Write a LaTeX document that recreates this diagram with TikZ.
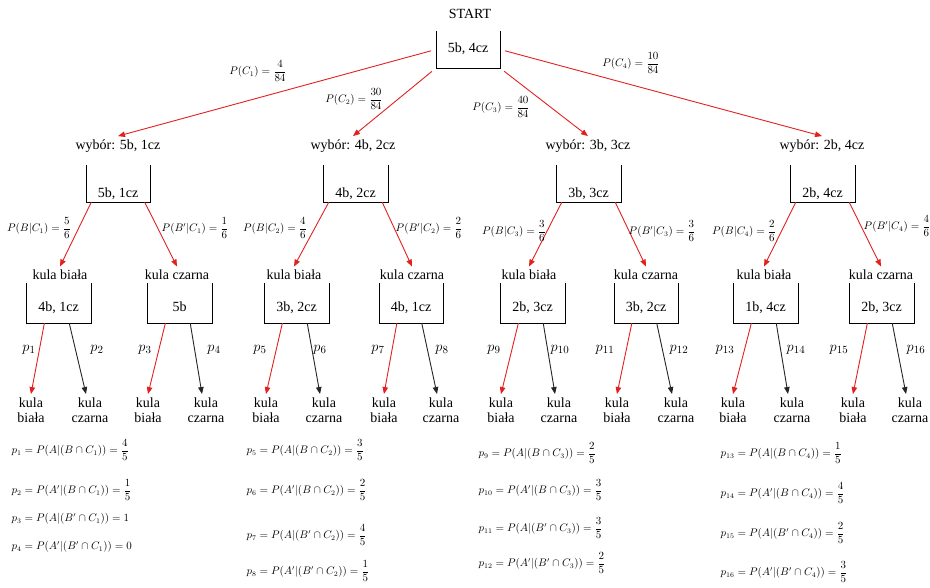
\documentclass[tikz,border=0pt]{standalone}
\usepackage{amsmath}
\usepackage{fontspec}
\setmainfont{Liberation Serif}
\usetikzlibrary{arrows.meta}
\definecolor{arrred}{RGB}{226,32,32}

\begin{document}
\begin{tikzpicture}[x=1pt,y=-1pt,
    font=\fontsize{14}{15}\selectfont,
    cupA/.style={inner sep=0pt,minimum width=64pt,text height=21.5pt,text depth=15.5pt},
    cupB/.style={inner sep=0pt,minimum width=64pt,text height=32.5pt,text depth=4.5pt},
    cupC/.style={inner sep=0pt,minimum width=64pt,text height=28.5pt,text depth=11.5pt},
    leaf/.style={align=center},
    prob/.style={font=\fontsize{10.5}{12}\selectfont},
    plab/.style={font=\fontsize{15}{17}\selectfont},
    res/.style={anchor=west,font=\fontsize{10.5}{12}\selectfont},
    redarr/.style={draw=arrred,line width=0.9pt,-{Triangle[length=7pt,width=5.5pt]}},
    blkarr/.style={draw=black!85,line width=0.9pt,-{Triangle[length=7pt,width=5.5pt]}}]
  \useasboundingbox (0,0) rectangle (930,587);

  % start and first draw
  \draw
    (470,14) node (start) {START}
    (468,49.5) node[cupA] (s) {5b, 4cz}
    (118,146) node (w1) {wybór: 5b, 1cz}
    (353,146) node (w2) {wybór: 4b, 2cz}
    (588,146) node (w3) {wybór: 3b, 3cz}
    (822,146) node (w4) {wybór: 2b, 4cz}
    (118,183.5) node[cupB] (b1) {5b, 1cz}
    (355.5,183.5) node[cupB] (b2) {4b, 2cz}
    (588.5,183.5) node[cupB] (b3) {3b, 3cz}
    (822.5,183.5) node[cupB] (b4) {2b, 4cz};

  % second draw
  \draw
    (60,275) node (kb1) {kula biała}
    (177,275) node (kc1) {kula czarna}
    (294,275) node (kb2) {kula biała}
    (412,275) node (kc2) {kula czarna}
    (529,275) node (kb3) {kula biała}
    (646,275) node (kc3) {kula czarna}
    (764,275) node (kb4) {kula biała}
    (881,275) node (kc4) {kula czarna}
    (58.5,303) node[cupC] (c1) {4b, 1cz}
    (179.5,303) node[cupC] (c2) {5b}
    (296.5,303) node[cupC] (c3) {3b, 2cz}
    (411,303) node[cupC] (c4) {4b, 1cz}
    (532.5,303) node[cupC] (c5) {2b, 3cz}
    (646,303) node[cupC] (c6) {3b, 2cz}
    (765.5,303) node[cupC] (c7) {1b, 4cz}
    (881.5,303) node[cupC] (c8) {2b, 3cz};

  % third draw
  \draw
    (31,410) node[leaf] (l1) {kula\\biała}
    (90,410) node[leaf] (l2) {kula\\czarna}
    (148,410) node[leaf] (l3) {kula\\biała}
    (206,410) node[leaf] (l4) {kula\\czarna}
    (266,410) node[leaf] (l5) {kula\\biała}
    (324,410) node[leaf] (l6) {kula\\czarna}
    (384,410) node[leaf] (l7) {kula\\biała}
    (441,410) node[leaf] (l8) {kula\\czarna}
    (501,410) node[leaf] (l9) {kula\\biała}
    (559,410) node[leaf] (l10) {kula\\czarna}
    (617,410) node[leaf] (l11) {kula\\biała}
    (676,410) node[leaf] (l12) {kula\\czarna}
    (733,410) node[leaf] (l13) {kula\\biała}
    (792,410) node[leaf] (l14) {kula\\czarna}
    (853,410) node[leaf] (l15) {kula\\biała}
    (910,410) node[leaf] (l16) {kula\\czarna};

  % open boxes
  \draw (s.north west) |- (s.south east) -- (s.north east);
  \draw (b1.north west) |- (b1.south east) -- (b1.north east);
  \draw (b2.north west) |- (b2.south east) -- (b2.north east);
  \draw (b3.north west) |- (b3.south east) -- (b3.north east);
  \draw (b4.north west) |- (b4.south east) -- (b4.north east);
  \draw (c1.north west) |- (c1.south east) -- (c1.north east);
  \draw (c2.north west) |- (c2.south east) -- (c2.north east);
  \draw (c3.north west) |- (c3.south east) -- (c3.north east);
  \draw (c4.north west) |- (c4.south east) -- (c4.north east);
  \draw (c5.north west) |- (c5.south east) -- (c5.north east);
  \draw (c6.north west) |- (c6.south east) -- (c6.north east);
  \draw (c7.north west) |- (c7.south east) -- (c7.north east);
  \draw (c8.north west) |- (c8.south east) -- (c8.north east);

  \begin{scope}[redarr]
    \draw[shorten <=5pt] (s.west) to (w1.north);
    \draw[shorten <=5pt] (s.south west) to (w2.north);
    \draw[shorten <=5pt] (s.south east) to (w3.north);
    \draw[shorten <=5pt] (s.east) to (w4.north);
    \draw (b1.-145) to (kb1.north);
    \draw (b1.-35) to (kc1.north);
    \draw (b2.-145) to (kb2.north);
    \draw (b2.-35) to (kc2.north);
    \draw (b3.-145) to (kb3.north);
    \draw (b3.-35) to (kc3.north);
    \draw (b4.-145) to (kb4.north);
    \draw (b4.-35) to (kc4.north);
    \draw (c1.-125) to (l1.north);
    \draw (c2.-125) to (l3.north);
    \draw (c3.-125) to (l5.north);
    \draw (c4.-125) to (l7.north);
    \draw (c5.-125) to (l9.north);
    \draw (c6.-125) to (l11.north);
    \draw (c7.-125) to (l13.north);
    \draw (c8.-125) to (l15.north);
  \end{scope}
  \begin{scope}[blkarr]
    \draw (c1.-62) to ([xshift=-4pt]l2.north);
    \draw (c2.-62) to ([xshift=-4pt]l4.north);
    \draw (c3.-62) to ([xshift=-4pt]l6.north);
    \draw (c4.-62) to ([xshift=-4pt]l8.north);
    \draw (c5.-62) to ([xshift=-4pt]l10.north);
    \draw (c6.-62) to ([xshift=-4pt]l12.north);
    \draw (c7.-62) to ([xshift=-4pt]l14.north);
    \draw (c8.-62) to ([xshift=-4pt]l16.north);
  \end{scope}

  % branch labels
  \node[prob] (q1) at (258,71) {$P(C_1)=\dfrac{4}{84}$};
  \node[prob] (q2) at (354,99) {$P(C_2)=\dfrac{30}{84}$};
  \node[prob] (q3) at (501,107) {$P(C_3)=\dfrac{40}{84}$};
  \node[prob] (q4) at (631,63) {$P(C_4)=\dfrac{10}{84}$};
  \node[prob] (r1) at (39,228) {$P(B|C_1)=\dfrac{5}{6}$};
  \node[prob] (r2) at (195,228) {$P(B'|C_1)=\dfrac{1}{6}$};
  \node[prob] (r3) at (275,228) {$P(B|C_2)=\dfrac{4}{6}$};
  \node[prob] (r4) at (429,228) {$P(B'|C_2)=\dfrac{2}{6}$};
  \node[prob] (r5) at (514,231) {$P(B|C_3)=\dfrac{3}{6}$};
  \node[prob] (r6) at (662,231) {$P(B'|C_3)=\dfrac{3}{6}$};
  \node[prob] (r7) at (744,231) {$P(B|C_4)=\dfrac{2}{6}$};
  \node[prob] (r8) at (897,226) {$P(B'|C_4)=\dfrac{4}{6}$};
  \node[plab] (p1) at (29,350) {$p_1$};
  \node[plab] (p2) at (97,350) {$p_2$};
  \node[plab] (p3) at (145,350) {$p_3$};
  \node[plab] (p4) at (214,350) {$p_4$};
  \node[plab] (p5) at (260,350) {$p_5$};
  \node[plab] (p6) at (320,350) {$p_6$};
  \node[plab] (p7) at (378,350) {$p_7$};
  \node[plab] (p8) at (442,350) {$p_8$};
  \node[plab] (p9) at (494,350) {$p_9$};
  \node[plab] (p10) at (560,350) {$p_{10}$};
  \node[plab] (p11) at (605,350) {$p_{11}$};
  \node[plab] (p12) at (679,350) {$p_{12}$};
  \node[plab] (p13) at (725,350) {$p_{13}$};
  \node[plab] (p14) at (796,350) {$p_{14}$};
  \node[plab] (p15) at (839,350) {$p_{15}$};
  \node[plab] (p16) at (916,350) {$p_{16}$};

  % results
  \node[res] (f1) at (8,450) {$p_1=P(A|(B\cap C_1))=\dfrac{4}{5}$};
  \node[res] (f2) at (8,490) {$p_2=P(A'|(B\cap C_1))=\dfrac{1}{5}$};
  \node[res] (f3) at (8,519) {$p_3=P(A|(B'\cap C_1))=1$};
  \node[res] (f4) at (8,547) {$p_4=P(A'|(B'\cap C_1))=0$};
  \node[res] (f5) at (243,450) {$p_5=P(A|(B\cap C_2))=\dfrac{3}{5}$};
  \node[res] (f6) at (243,490) {$p_6=P(A'|(B\cap C_2))=\dfrac{2}{5}$};
  \node[res] (f7) at (243,535) {$p_7=P(A|(B'\cap C_2))=\dfrac{4}{5}$};
  \node[res] (f8) at (243,571) {$p_8=P(A'|(B'\cap C_2))=\dfrac{1}{5}$};
  \node[res] (f9) at (475,453) {$p_9=P(A|(B\cap C_3))=\dfrac{2}{5}$};
  \node[res] (f10) at (475,490) {$p_{10}=P(A'|(B\cap C_3))=\dfrac{3}{5}$};
  \node[res] (f11) at (475,528) {$p_{11}=P(A|(B'\cap C_3))=\dfrac{3}{5}$};
  \node[res] (f12) at (475,563) {$p_{12}=P(A'|(B'\cap C_3))=\dfrac{2}{5}$};
  \node[res] (f13) at (717,453) {$p_{13}=P(A|(B\cap C_4))=\dfrac{1}{5}$};
  \node[res] (f14) at (717,493) {$p_{14}=P(A'|(B\cap C_4))=\dfrac{4}{5}$};
  \node[res] (f15) at (717,533) {$p_{15}=P(A|(B'\cap C_4))=\dfrac{2}{5}$};
  \node[res] (f16) at (717,572) {$p_{16}=P(A'|(B'\cap C_4))=\dfrac{3}{5}$};
\end{tikzpicture}
\end{document}
